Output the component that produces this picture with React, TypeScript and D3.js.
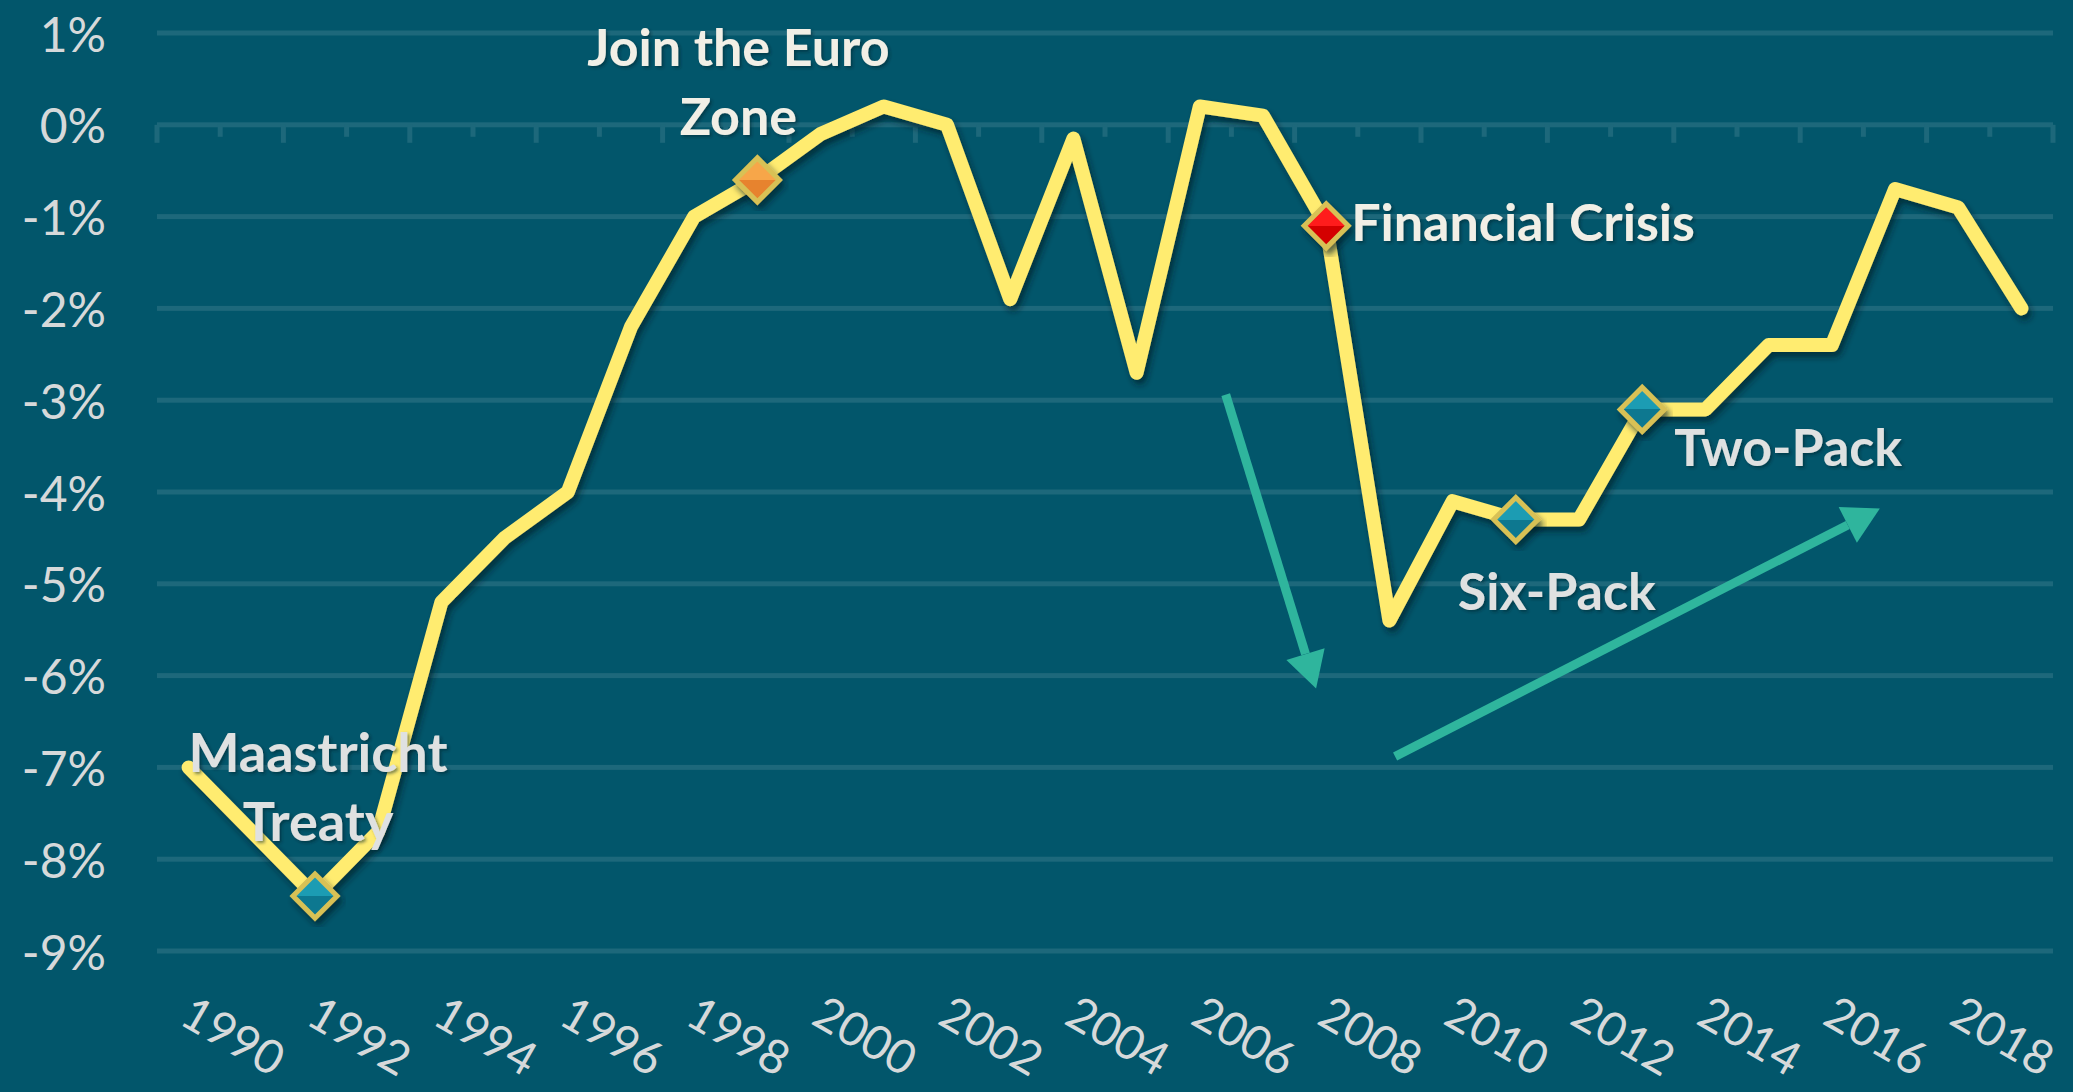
import React from "react";
import * as d3 from "d3";

const years: number[] = d3.range(1990, 2020);
const balance: number[] = [
  -7.0, -7.7, -8.4, -7.7, -5.2, -4.5, -4.0, -2.2, -1.0, -0.6,
  -0.1, 0.2, 0.0, -1.9, -0.15, -2.7, 0.2, 0.1, -1.1, -5.4,
  -4.1, -4.3, -4.3, -3.1, -3.1, -2.4, -2.4, -0.7, -0.9, -2.0,
];
const yTicks: number[] = [1, 0, -1, -2, -3, -4, -5, -6, -7, -8, -9];
const xLabelYears: number[] = d3.range(1990, 2019, 2);

const eventYears: number[] = [1992, 1999, 2008, 2011, 2013];
const eventKinds: string[] = ["teal", "orange", "red", "teal", "teal"];
const eventLabels: string[][] = [
  ["Maastricht", "Treaty"],
  ["Join the Euro", "Zone"],
  ["Financial Crisis"],
  ["Six-Pack"],
  ["Two-Pack"],
];
// arrows in data coordinates [year, value] -> [year, value]
const arrowsData: [number, number, number, number][] = [
  [2006.41, -2.94, 2007.84, -6.14],
  [2009.09, -6.88, 2016.76, -4.18],
];

const W = 2073;
const H = 1092;
const BG = "#02566b";
const GRID = "#1d687b";
const LINE = "#ffec70";
const ARROW = "#2fb59d";
const FONT = "Lato, 'Open Sans', sans-serif";

// layout for annotation text (offsets from marker point)
const labelLayout = [
  { dx: 3, dy: [-144, -75], anchor: "middle", color: "#dfe1e1", size: 54 },
  { dx: -19, dy: [-134, -65], anchor: "middle", color: "#f1efe6", size: 52 },
  { dx: 25, dy: [-5], anchor: "start", color: "#f1efe6", size: 52 },
  { dx: 41, dy: [70], anchor: "middle", color: "#dfe1e1", size: 52 },
  { dx: 146, dy: [37], anchor: "middle", color: "#dfe1e1", size: 52 },
];

export default function App() {
  const left = 157;
  const right = 2053;
  const x = d3.scaleBand<number>().domain(years).range([left, right]).padding(0);
  const bw = x.bandwidth();
  const cx = (yr: number) => (x(yr) as number) + bw / 2;
  const xYear = d3.scaleLinear().domain([1990, 2019]).range([cx(1990), cx(2019)]);
  const y = d3.scaleLinear().domain([-9, 1]).range([951, 33]);

  const pts: [number, number][] = years.map((yr, i) => [cx(yr), y(balance[i])]);
  const lineGen = d3.line<[number, number]>().x((d) => d[0]).y((d) => d[1]);

  const boundaries = d3.range(0, years.length + 1).map((i) => left + i * bw);

  const fills: Record<string, [string, string]> = {
    teal: ["#1f9cb3", "#0f7890"],
    orange: ["#f7a648", "#e7832e"],
    red: ["#ff1a1a", "#d40000"],
  };

  const r = 22;
  const diamond = `M0,${-r} L${r},0 L0,${r} L${-r},0 Z`;

  return (
    <div style={{ position: "fixed", left: 0, top: 0 }}>
      <svg width={W} height={H} style={{ display: "block" }}>
        <defs>
          <filter id="shadow" x="-20%" y="-20%" width="140%" height="140%">
            <feDropShadow dx="3" dy="5" stdDeviation="3" floodColor="#001f28" floodOpacity="0.65" />
          </filter>
          <filter id="tshadow" x="-10%" y="-20%" width="120%" height="140%">
            <feDropShadow dx="2" dy="2" stdDeviation="1.5" floodColor="#00222c" floodOpacity="0.5" />
          </filter>
          {Object.entries(fills).map(([k, [a, b]]) => (
            <linearGradient key={k} id={`g-${k}`} x1="0" y1="0" x2="0" y2="1">
              <stop offset="0%" stopColor={a} />
              <stop offset="50%" stopColor={a} />
              <stop offset="50%" stopColor={b} />
              <stop offset="100%" stopColor={b} />
            </linearGradient>
          ))}
        </defs>
        <rect x={0} y={0} width={W} height={H} fill={BG} />

        {/* gridlines */}
        {yTicks.map((t) => (
          <rect key={t} x={left} y={y(t) - 2.5} width={right - left} height={5} fill={GRID} />
        ))}
        {/* ticks on 0% axis */}
        {boundaries.map((bx, i) => (
          <rect key={i} x={bx - 2.5} y={y(0)} width={5} height={i % 2 === 0 ? 18 : 12} fill={GRID} />
        ))}

        {/* y labels */}
        {yTicks.map((t) => (
          <text
            key={t}
            x={106}
            y={y(t)}
            textAnchor="end"
            dominantBaseline="central"
            fontFamily={FONT}
            fontSize={48}
            fill="#d6d9da"
          >
            {`${t}%`}
          </text>
        ))}

        {/* x labels */}
        {xLabelYears.map((yr) => (
          <text
            key={yr}
            transform={`translate(${cx(yr) - 11},${1023}) rotate(30)`}
            fontFamily={FONT}
            fontSize={47}
            fill="#d6d9da"
          >
            {yr}
          </text>
        ))}

        {/* line */}
        <path
          d={lineGen(pts) || ""}
          fill="none"
          stroke={LINE}
          strokeWidth={14}
          strokeLinejoin="round"
          strokeLinecap="round"
          filter="url(#shadow)"
        />

        {/* markers */}
        {eventYears.map((yr, i) => {
          const idx = years.indexOf(yr);
          return (
            <g key={yr} transform={`translate(${cx(yr)},${y(balance[idx])})`} filter="url(#shadow)">
              <path d={diamond} fill={`url(#g-${eventKinds[i]})`} stroke="#d8c155" strokeWidth={5} strokeLinejoin="miter" />
            </g>
          );
        })}

        {/* arrows */}
        {arrowsData.map(([x0, v0, x1, v1], i) => {
          const X0 = xYear(x0), Y0 = y(v0), X1 = xYear(x1), Y1 = y(v1);
          const ang = Math.atan2(Y1 - Y0, X1 - X0);
          const headL = 36, headW = 20;
          const bx = X1 - headL * Math.cos(ang);
          const by = Y1 - headL * Math.sin(ang);
          const px = -Math.sin(ang), py = Math.cos(ang);
          return (
            <g key={i}>
              <line x1={X0} y1={Y0} x2={bx} y2={by} stroke={ARROW} strokeWidth={9} />
              <path
                d={`M${X1},${Y1} L${bx + px * headW},${by + py * headW} L${bx - px * headW},${by - py * headW} Z`}
                fill={ARROW}
              />
            </g>
          );
        })}

        {/* annotations */}
        {eventYears.map((yr, i) => {
          const idx = years.indexOf(yr);
          const mx = cx(yr);
          const my = y(balance[idx]);
          const L = labelLayout[i];
          return (
            <g key={yr} filter="url(#tshadow)">
              {eventLabels[i].map((s, j) => (
                <text
                  key={j}
                  x={mx + L.dx}
                  y={my + L.dy[j]}
                  textAnchor={L.anchor as any}
                  dominantBaseline="central"
                  fontFamily={FONT}
                  fontWeight="bold"
                  fontSize={L.size}
                  fill={L.color}
                >
                  {s}
                </text>
              ))}
            </g>
          );
        })}
      </svg>
    </div>
  );
}
